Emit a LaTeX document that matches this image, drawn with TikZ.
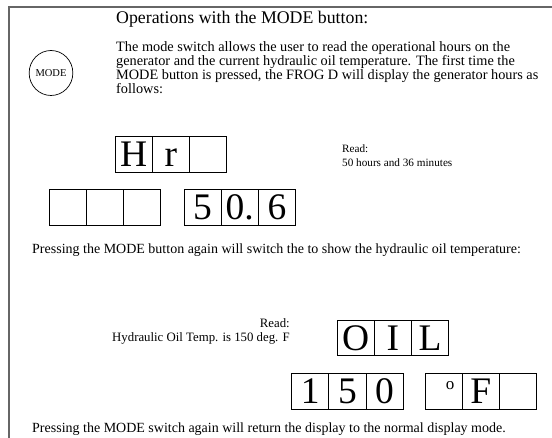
\documentclass[tikz,border=0pt]{standalone}
\usepackage{fontspec}
\usetikzlibrary{shapes.geometric}
\setmainfont{Liberation Serif}
\begin{document}
\begin{tikzpicture}[x=1pt,y=-1pt,
  cell/.style={draw=black,line width=0.8pt,minimum width=37.2pt,minimum height=35.5pt,inner sep=0pt,
    font=\fontsize{37.5}{37.5}\selectfont,text height=25pt,text depth=0pt},
  txt/.style={inner sep=0pt,font=\fontsize{14}{13.8}\selectfont,align=left},
  frame/.style={draw=black!60,line width=2pt}]
\useasboundingbox (0,0) rectangle (552,438);
\draw[frame] (8.5,438) -- (8.5,7) -- (552,7);
% title and intro
\node[txt,anchor=base west,font=\fontsize{17.8}{18}\selectfont] (title) at (116,24) {Operations with the MODE button:};
\node[txt,anchor=north west,font=\fontsize{14.3}{13.9}\selectfont] (intro) at (116,41.2) {The mode switch allows the user to read the operational hours on the\\
generator and the current hydraulic oil temperature. The first time the\\
MODE button is pressed, the FROG D will display the generator hours as\\
follows:};
\node[draw=black,line width=0.7pt,ellipse,minimum width=39pt,minimum height=45pt,inner sep=0pt,font=\fontsize{10.5}{11}\selectfont] (mode) at (51,73) {MODE};
% Hr row
\node[cell] (h1) at (133.6,154.5) {H};
\node[cell] (h2) at (170.8,154.5) {r};
\node[cell] (h3) at (208,154.5) {};
\node[txt,anchor=north west,font=\fontsize{11.2}{14}\selectfont] (read1) at (342,144.4) {Read:\\50 hours and 36 minutes};
% hours row
\node[cell] (e1) at (67.6,207.5) {};
\node[cell] (e2) at (104.8,207.5) {};
\node[cell] (e3) at (142,207.5) {};
\node[cell] (d1) at (202.6,207.5) {5};
\node[cell] (d2) at (239.8,207.5) {0.};
\node[cell] (d3) at (277,207.5) {6};
\node[txt,anchor=base west] (press1) at (32,254) {Pressing the MODE button again will switch the to show the hydraulic oil temperature:};
% oil
\node[txt,anchor=north east,align=right,font=\fontsize{12.8}{14}\selectfont] (read2) at (290,318.3) {Read:\\Hydraulic Oil Temp. is 150 deg. F};
\node[cell] (o1) at (355.6,338) {O};
\node[cell] (o2) at (392.8,338) {I};
\node[cell] (o3) at (430,338) {L};
\node[cell] (t1) at (310.2,391.5) {1};
\node[cell] (t2) at (347.4,391.5) {5};
\node[cell] (t3) at (384.6,391.5) {0};
\node[cell] (f1) at (443.6,391.5) {\hspace*{13pt}\raisebox{14pt}{\fontsize{17}{17}\selectfont o}};
\node[cell] (f2) at (480.8,391.5) {F};
\node[cell] (f3) at (518,391.5) {};
\node[txt,anchor=base west] (press2) at (32,432) {Pressing the MODE switch again will return the display to the normal display mode.};
\end{tikzpicture}
\end{document}
